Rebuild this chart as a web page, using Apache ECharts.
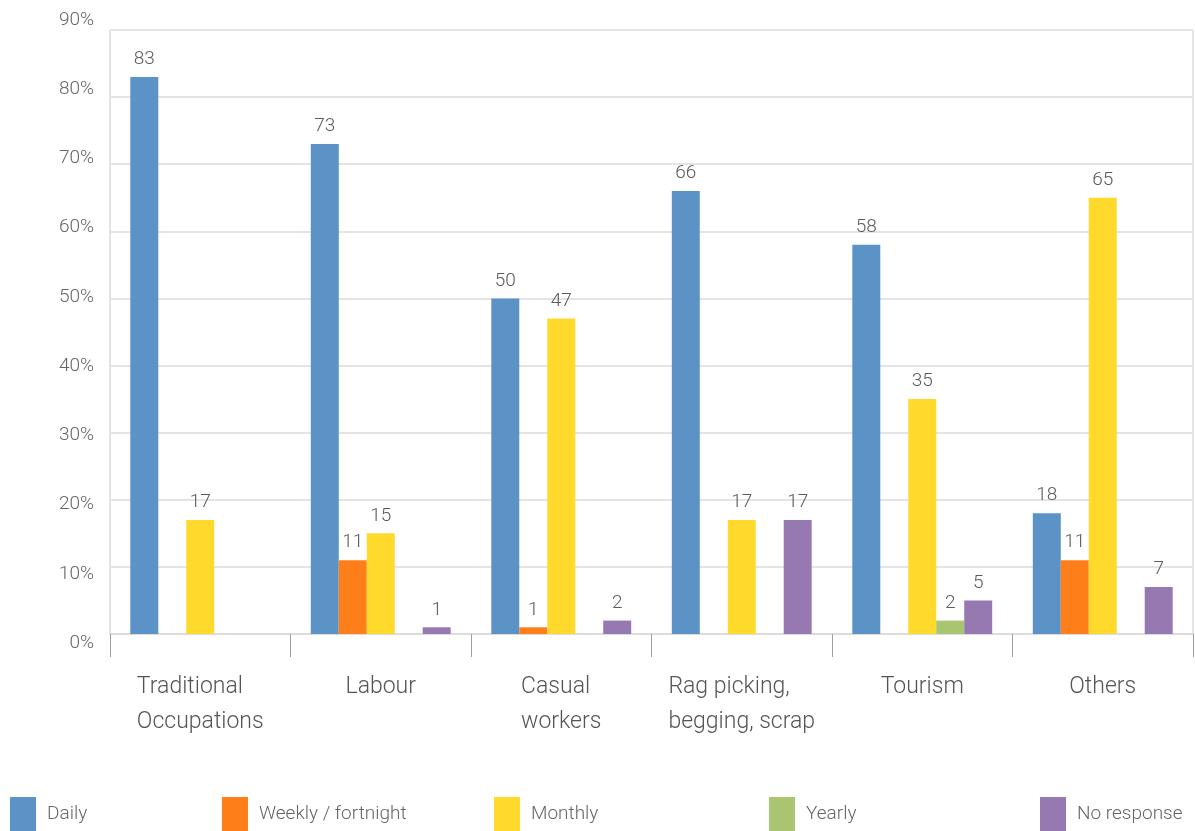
<!DOCTYPE html>
<html>
<head>
<meta charset="utf-8">
<script src="https://cdn.jsdelivr.net/npm/echarts@6/dist/echarts.min.js"></script>
<style>
html,body{margin:0;padding:0;background:#fff;}
#chart{width:1195px;height:831px;}
</style>
</head>
<body>
<div id="chart"></div>
<script>
const categories = ['Traditional\nOccupations', 'Labour', 'Casual\nworkers', 'Rag picking,\nbegging, scrap', 'Tourism', 'Others'];
const seriesNames = ['Daily', 'Weekly / fortnight', 'Monthly', 'Yearly', 'No response'];
const daily = [83, 73, 50, 66, 58, 18];
const weekly = [null, 11, 1, null, null, 11];
const monthly = [17, 15, 47, 17, 35, 65];
const yearly = [null, null, null, null, 2, null];
const noResponse = [null, 1, 2, 17, 5, 7];
const colors = ['#5B93C7', '#FE7F1A', '#FFD92B', '#A9C572', '#9779B1'];
const yMin = 0, yMax = 90, yStep = 10;

const FONT = 'Roboto';
const values = [daily, weekly, monthly, yearly, noResponse];
const legendLefts = [10, 222, 494, 769, 1040];

const chart = echarts.init(document.getElementById('chart'), null, {renderer: 'canvas'});

const series = values.map((v, i) => ({
  name: seriesNames[i],
  type: 'bar',
  xAxisIndex: 0,
  yAxisIndex: 0,
  data: v,
  barGap: '0%',
  barCategoryGap: '22.5%',
  itemStyle: {color: colors[i]},
  label: {
    show: true,
    position: 'top',
    distance: 8,
    color: '#5a5a5a',
    fontFamily: FONT,
    fontWeight: 300,
    fontSize: 19
  }
}));

const option = {
  animation: false,
  backgroundColor: '#fff',
  color: colors,
  grid: [
    {left: 110, right: 2, top: 30, bottom: 197, show: true, borderColor: '#c9c9c9', borderWidth: 1, containLabel: false},
    {left: 110, right: 2, top: 20, bottom: 188, show: false, containLabel: false}
  ],
  xAxis: [
    {
      type: 'category',
      gridIndex: 0,
      data: categories,
      axisLine: {show: true, lineStyle: {color: '#dcdcdc', width: 2}},
      axisTick: {show: true, length: 23, lineStyle: {color: '#a0a0a0', width: 1}},
      axisLabel: {
        margin: 36,
        color: '#555',
        fontFamily: FONT,
        fontWeight: 300,
        fontSize: 23,
        lineHeight: 35,
        interval: 0,
        formatter: function (v) {
          return v.split('\n').map(function (s) { return '{l|' + s + '}'; }).join('\n');
        },
        rich: {
          l: {
            align: 'left',
            color: '#555',
            fontFamily: FONT,
            fontWeight: 300,
            fontSize: 23,
            lineHeight: 35
          }
        }
      },
      splitLine: {show: false}
    },
    {type: 'value', gridIndex: 1, show: false, min: 0, max: 1}
  ],
  yAxis: [
    {
      type: 'value',
      gridIndex: 0,
      min: yMin,
      max: yMax,
      interval: yStep,
      axisLine: {show: false},
      axisTick: {show: false},
      axisLabel: {show: false},
      splitLine: {show: true, lineStyle: {color: '#e4e4e4', width: 2}}
    },
    {
      type: 'value',
      gridIndex: 1,
      min: yMin,
      max: yMax,
      interval: yStep,
      axisLine: {show: false},
      axisTick: {show: false},
      splitLine: {show: false},
      axisLabel: {
        show: true,
        margin: 16,
        color: '#666',
        fontFamily: FONT,
        fontWeight: 300,
        fontSize: 19,
        formatter: '{value}%'
      }
    }
  ],
  legend: seriesNames.map((n, i) => ({
    data: [n],
    left: legendLefts[i],
    top: 797,
    padding: 0,
    itemWidth: 26,
    itemHeight: 34,
    itemGap: 0,
    icon: 'rect',
    selectedMode: false,
    textStyle: {
      color: '#666',
      fontFamily: FONT,
      fontWeight: 300,
      fontSize: 19,
      padding: [0, 0, 0, 6]
    }
  })),
  series: series
};

chart.setOption(option);
</script>
</body>
</html>
